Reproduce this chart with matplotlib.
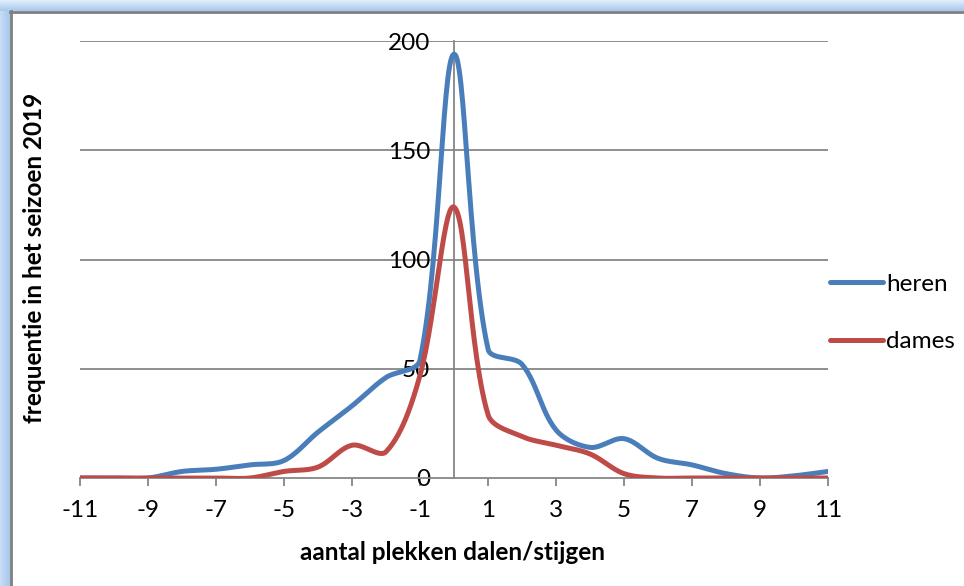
import numpy as np
import matplotlib
matplotlib.use("Agg")
import matplotlib.pyplot as plt
from matplotlib.lines import Line2D
from matplotlib.colors import LinearSegmentedColormap

plt.rcParams['font.family'] = ['Lato', 'DejaVu Sans']

# data
positions = list(range(-11, 12))
heren = [0, 0, 0, 3, 4, 6, 8, 21, 33, 46, 54, 194, 59, 52, 22, 14, 18, 9, 6, 2, 0, 1, 3]
dames = [0, 0, 0, 0, 0, 0, 3, 5, 15, 12, 47, 124, 29, 19, 15, 11, 2, 0, 0, 0, 0, 0, 0]
xtick_labels = [-11, -9, -7, -5, -3, -1, 1, 3, 5, 7, 9, 11]
ytick_labels = [0, 50, 100, 150, 200]

blue = '#4A7EBB'
red = '#BE4B48'
grid = '#868686'
fs = 17.5

W, H = 964, 586
# pixels per data unit, used only to weight the smoothing like excel does
px_x = 748 / 22
px_y = 437 / 200


def smooth(x, y, n=30, s=1 / 3):
    # excel style smoothed line: bezier segments, control points weighted by chord length
    pts = np.column_stack([np.array(x, float) * px_x, np.array(y, float) * px_y])
    m = len(pts)
    left = pts.copy()
    right = pts.copy()
    for i in range(1, m - 1):
        d01 = np.hypot(*(pts[i] - pts[i - 1]))
        d12 = np.hypot(*(pts[i + 1] - pts[i]))
        tot = d01 + d12
        if tot == 0:
            continue
        tan = pts[i + 1] - pts[i - 1]
        left[i] = pts[i] - s * d01 / tot * tan
        right[i] = pts[i] + s * d12 / tot * tan
    t = np.linspace(0, 1, n)[:, None]
    out = []
    for i in range(m - 1):
        p1, c1, c2, p2 = pts[i], right[i], left[i + 1], pts[i + 1]
        seg = (1 - t)**3 * p1 + 3 * (1 - t)**2 * t * c1 + 3 * (1 - t) * t**2 * c2 + t**3 * p2
        out.append(seg if i == 0 else seg[1:])
    sm = np.vstack(out)
    return sm[:, 0] / px_x, sm[:, 1] / px_y


fig = plt.figure(figsize=(W / 100, H / 100), dpi=100)

# frame: light blue band on top and left, grey inner line
bg = fig.add_axes([0, 0, 1, 1], zorder=-5)
bg.set_xlim(0, W)
bg.set_ylim(H, 0)
bg.axis('off')
bg.imshow(np.linspace(0, 1, 50)[:, None], extent=(0, W, 11, 0),
          cmap=LinearSegmentedColormap.from_list('b', ['#E4EEFB', '#A5C8EF']), aspect='auto')
bg.imshow(np.linspace(0, 1, 50)[None, :], extent=(0, 10, H, 11),
          cmap=LinearSegmentedColormap.from_list('b2', ['#C9DDF6', '#A5C8EF']), aspect='auto')
bg.plot([10, W], [11.5, 11.5], color='#7F7F7F', lw=2)
bg.plot([10.5, 10.5], [11, H], color='#7F7F7F', lw=2)

ax = fig.add_axes([80 / W, 1 - 478 / H, 748 / W, 437 / H])
ax.set_xlim(-11, 11)
ax.set_ylim(0, 200)

for yv in ytick_labels[1:]:
    ax.axhline(yv, color=grid, lw=1.3, zorder=1)

ax.spines['top'].set_visible(False)
ax.spines['right'].set_visible(False)
ax.spines['left'].set_position(('data', 0))
ax.spines['left'].set_color(grid)
ax.spines['left'].set_linewidth(1.3)
ax.spines['bottom'].set_color(grid)
ax.spines['bottom'].set_linewidth(1.3)

sx, sy = smooth(positions, heren)
ax.plot(sx, sy, color=blue, lw=3.6, solid_capstyle='round', zorder=3)
sx, sy = smooth(positions, dames)
ax.plot(sx, sy, color=red, lw=3.6, solid_capstyle='round', zorder=3)

ax.set_xticks(xtick_labels)
ax.set_xticklabels([str(v) for v in xtick_labels], fontsize=fs)
ax.tick_params(axis='x', length=6, width=1.3, color=grid, pad=10)
ax.set_yticks(ytick_labels)
ax.set_yticklabels([str(v) for v in ytick_labels], fontsize=fs)
ax.tick_params(axis='y', length=0, pad=17)
for lab in ax.get_yticklabels():
    lab.set_zorder(5)

fig.text(35 / W, 1 - 258 / H, 'frequentie in het seizoen 2019', rotation=90,
         fontsize=fs, fontweight='bold', ha='center', va='center')
fig.text(453 / W, 1 - 553 / H, 'aantal plekken dalen/stijgen',
         fontsize=fs, fontweight='bold', ha='center', va='center')

handles = [Line2D([], [], color=blue, lw=3.6, solid_capstyle='round'),
           Line2D([], [], color=red, lw=3.6, solid_capstyle='round')]
fig.legend(handles, ['heren', 'dames'], loc='center left',
           bbox_to_anchor=(830 / W, 1 - 313 / H), frameon=False, fontsize=fs,
           handlelength=2.2, handletextpad=0.12, labelspacing=1.5, borderpad=0,
           borderaxespad=0)

fig.savefig('out.png', dpi=100)
